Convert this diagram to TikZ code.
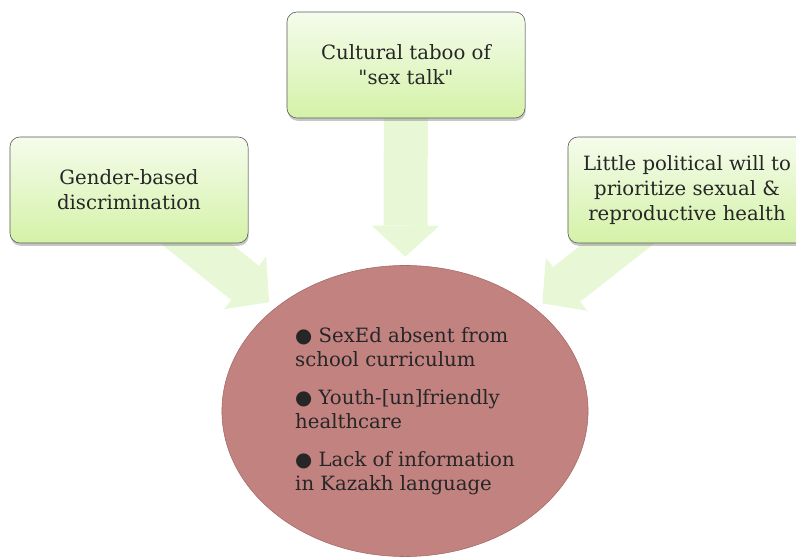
\documentclass[tikz,border=0pt]{standalone}
\usepackage{fontspec}
\setmainfont{DejaVu Serif}[Ligatures=TeXOff]
\newfontfamily\symfont{DejaVu Sans}
\usetikzlibrary{shapes.geometric,arrows.meta,shadows,backgrounds}

\definecolor{boxtop}{RGB}{245,252,236}
\definecolor{boxbot}{RGB}{212,242,168}
\definecolor{boxline}{RGB}{90,90,90}
\definecolor{arrowfill}{RGB}{232,248,214}
\definecolor{ovalfill}{RGB}{194,130,128}
\definecolor{ovalline}{RGB}{165,105,103}

\tikzset{
  cause/.style={draw=boxline, rounded corners=0.25cm, top color=boxtop,
    bottom color=boxbot, minimum width=5.95cm, minimum height=2.65cm,
    align=center, text=black!85, font=\fontsize{14}{18}\selectfont,
    drop shadow={opacity=0.45, shadow xshift=0.5pt, shadow yshift=-2pt}},
  effect/.style={ellipse, draw=ovalline, fill=ovalfill, minimum width=9.15cm,
    minimum height=7.275cm, inner sep=0pt, outer sep=0pt, align=left,
    text=black!85, font=\fontsize{14}{17}\selectfont},
  flow/.style={draw=arrowfill, line width=31.3pt,
    -{Triangle[length=22pt, width=48pt, line width=0pt]}, shorten >=0.22cm}
}

\begin{document}
\begin{tikzpicture}[x=0.025cm, y=-0.025cm]

\useasboundingbox (0,0) rectangle (796,557);

\node[cause] (gender) at (129,190) {Gender-based\\discrimination};
\node[cause] (taboo) at (406,65) {Cultural taboo of\\"sex talk"};
\node[cause] (politics) at (687,190) {Little political will to\\prioritize sexual \&\\reproductive health};

\node[effect] (barriers) at (405,411) {{\symfont ●} SexEd absent from\\school curriculum\\[10pt]
  {\symfont ●} Youth-[un]friendly\\healthcare\\[10pt]
  {\symfont ●} Lack of information\\in Kazakh language};

\begin{scope}[on background layer]
\draw[flow] (gender.center) -- (barriers);
\draw[flow] (taboo.center) -- (barriers);
\draw[flow] (politics.center) -- (barriers);
\end{scope}

\end{tikzpicture}
\end{document}
